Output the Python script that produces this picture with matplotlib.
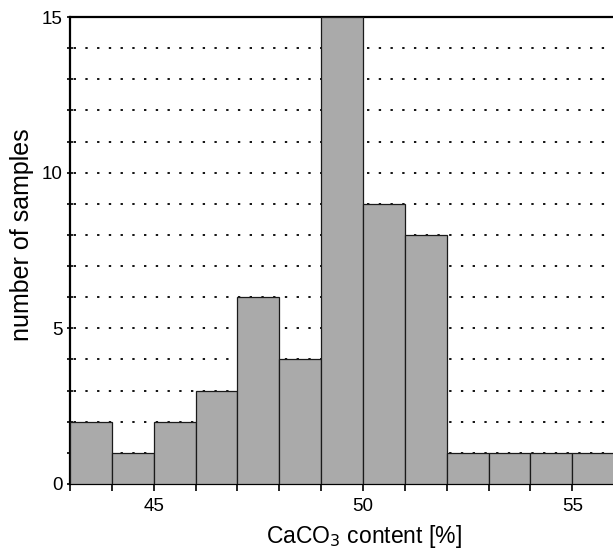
import matplotlib
matplotlib.use("Agg")
import matplotlib.pyplot as plt
import numpy as np

plt.rcParams['font.family'] = ['Liberation Sans', 'DejaVu Sans']

bin_edges = [43, 44, 45, 46, 47, 48, 49, 50, 51, 52, 53, 54, 55, 56]
counts = [2, 1, 2, 3, 6, 4, 15, 9, 8, 1, 1, 1, 1]
x_ticks = [45, 50, 55]
y_ticks = [0, 5, 10, 15]

fig = plt.figure(figsize=(6.13, 5.54), dpi=100)
ax = fig.add_axes([70/613, 1-484/554, 1-70/613 + 0.002, (484-17)/554])

lefts = np.array(bin_edges[:-1])
widths = np.diff(bin_edges)
ax.bar(lefts, counts, width=widths, align='edge', color='#aaaaaa',
       edgecolor='#1a1a1a', linewidth=0.9, zorder=3)

for y in range(1, 15):
    ax.axhline(y, color='black', linestyle=(4.5, (1.3, 5.2)), linewidth=1.3, zorder=1)

ax.set_xlim(43, 56)
ax.set_ylim(0, 15)
ax.set_xticks(x_ticks)
ax.set_xticks(bin_edges, minor=True)
ax.set_yticks(y_ticks)
ax.set_yticks(range(0, 16), minor=True)
ax.tick_params(axis='x', which='both', direction='out', length=5, width=1.2, labelsize=13.5, pad=5)
ax.tick_params(axis='y', which='both', direction='inout', length=5, width=1.2, labelsize=13.5, pad=3)

for side in ['left', 'bottom', 'top']:
    ax.spines[side].set_linewidth(1.6)
ax.spines['right'].set_visible(False)

ax.set_xlabel('CaCO$_3$ content [%]', fontsize=16.5)
ax.set_ylabel('number of samples', fontsize=18)
ax.xaxis.set_label_coords((363.5 - 70) / 543, -0.084)
ax.yaxis.set_label_coords(-0.066, 0.533)

fig.savefig('out.png', dpi=100)
